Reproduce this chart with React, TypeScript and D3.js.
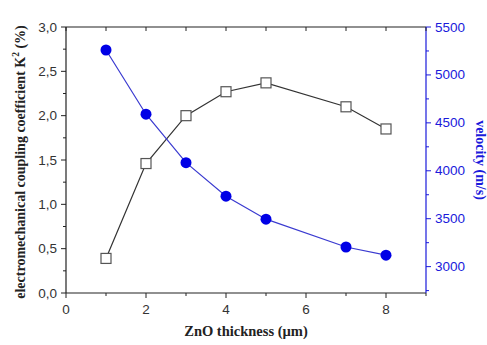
import React from 'react';
import * as d3 from 'd3';

const thickness = [1, 2, 3, 4, 5, 7, 8];
const couplingK2 = [0.39, 1.46, 2.0, 2.27, 2.37, 2.1, 1.85];
const velocity = [5260, 4590, 4085, 3735, 3495, 3205, 3120];
const xTicks = [0, 2, 4, 6, 8];
const leftTicks = [0, 0.5, 1, 1.5, 2, 2.5, 3];
const rightTicks = [3000, 3500, 4000, 4500, 5000, 5500];

const W = 487;
const H = 345;
const margin = { top: 27, right: 61, bottom: 52, left: 66 };

const tickFont = '"Liberation Sans", Arial, sans-serif';
const titleFont = '"Liberation Serif", "Times New Roman", serif';
const blue = '#1a1adb';

export default function App() {
  const x = d3.scaleLinear().domain([0, 9]).range([margin.left, W - margin.right]);
  const yL = d3.scaleLinear().domain([0, 3]).range([H - margin.bottom, margin.top]);
  const yR = d3.scaleLinear().domain([2725, 5500]).range([H - margin.bottom, margin.top]);

  const x0 = margin.left;
  const x1 = W - margin.right;
  const yb = H - margin.bottom;
  const yt = margin.top;

  const kLine = d3.line<number>()
    .x((_, i) => x(thickness[i]))
    .y(d => yL(d));
  const vLine = d3.line<number>()
    .x((_, i) => x(thickness[i]))
    .y(d => yR(d));

  const minorX = d3.range(0, 10, 1);
  const minorL = d3.range(0, 3.01, 0.25);
  const minorR = d3.range(2750, 5501, 250);

  return (
    <div style={{ position: 'absolute', left: 0, top: 0 }}>
      <svg width={W} height={H} style={{ display: 'block', background: '#fff' }}>
        {/* frame */}
        <line x1={x0} x2={x1} y1={yt} y2={yt} stroke="#222" strokeWidth={1.2} />
        <line x1={x0} x2={x1} y1={yb} y2={yb} stroke="#222" strokeWidth={1.2} />
        <line x1={x0} x2={x0} y1={yt} y2={yb} stroke="#222" strokeWidth={1.2} />
        <line x1={x1} x2={x1} y1={yt} y2={yb} stroke={blue} strokeWidth={1.2} />

        {/* bottom axis ticks */}
        {minorX.map(v => (
          <line key={'bx' + v} x1={x(v)} x2={x(v)} y1={yb} y2={yb + (v % 2 === 0 ? 5 : 3)} stroke="#222" />
        ))}
        {minorX.map(v => (
          <line key={'tx' + v} x1={x(v)} x2={x(v)} y1={yt} y2={yt + 4} stroke="#222" />
        ))}
        {xTicks.map(v => (
          <text key={'xl' + v} x={x(v)} y={yb + 21} textAnchor="middle" fontFamily={tickFont} fontSize={13.5} fill="#333">
            {v}
          </text>
        ))}

        {/* left axis */}
        {minorL.map(v => (
          <line key={'ly' + v} x1={x0} x2={x0 - (Math.abs(v * 2 - Math.round(v * 2)) < 1e-6 ? 5 : 3)} y1={yL(v)} y2={yL(v)} stroke="#222" />
        ))}
        {leftTicks.map(v => (
          <text key={'ll' + v} x={x0 - 9} y={yL(v) + 4.5} textAnchor="end" fontFamily={tickFont} fontSize={13.5} fill="#333">
            {v.toFixed(1).replace('.', ',')}
          </text>
        ))}

        {/* right axis */}
        {minorR.map(v => (
          <line key={'ry' + v} x1={x1} x2={x1 + (v % 500 === 0 ? 5 : 3)} y1={yR(v)} y2={yR(v)} stroke={blue} />
        ))}
        {rightTicks.map(v => (
          <text key={'rl' + v} x={x1 + 9} y={yR(v) + 4.5} textAnchor="start" fontFamily={tickFont} fontSize={13.5} fill={blue}>
            {v}
          </text>
        ))}

        {/* series */}
        <path d={kLine(couplingK2) ?? ''} fill="none" stroke="#333" strokeWidth={1.2} />
        <path d={vLine(velocity) ?? ''} fill="none" stroke="#3a3ad0" strokeWidth={1.2} />
        {couplingK2.map((v, i) => (
          <rect key={'sq' + i} x={x(thickness[i]) - 5} y={yL(v) - 5} width={10} height={10} fill="#fff" stroke="#555" strokeWidth={1.2} />
        ))}
        {velocity.map((v, i) => (
          <circle key={'c' + i} cx={x(thickness[i])} cy={yR(v)} r={5.5} fill="#0000e6" />
        ))}

        {/* titles */}
        <text x={(x0 + x1) / 2} y={H - 9} textAnchor="middle" fontFamily={titleFont} fontWeight="bold" fontSize={14.5} fill="#222">
          ZnO thickness (µm)
        </text>
        <text transform={`translate(25,${(yt + yb) / 2 + 2}) rotate(-90)`} textAnchor="middle" fontFamily={titleFont} fontWeight="bold" fontSize={14} fill="#222">
          electromechanical coupling coefficient K<tspan fontSize={9.5} dy={-6}>2</tspan><tspan dy={6}> (%)</tspan>
        </text>
        <text transform={`translate(476,${(yt + yb) / 2}) rotate(90)`} textAnchor="middle" fontFamily={titleFont} fontWeight="bold" fontSize={14} fill={blue}>
          velocity (m/s)
        </text>
      </svg>
    </div>
  );
}
